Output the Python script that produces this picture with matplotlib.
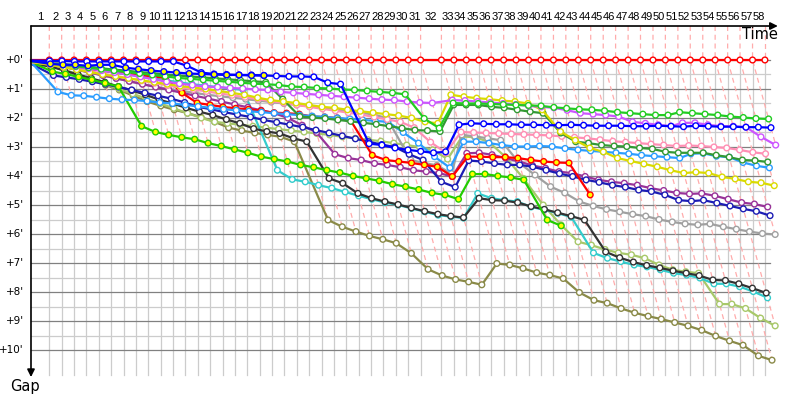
import matplotlib
matplotlib.use("Agg")
import matplotlib.pyplot as plt

# Leader lap durations (s), laps 1..58
lap_times = [139, 94, 94, 94, 94, 94, 94, 94, 94, 94, 94, 94, 94, 94, 94, 94, 94, 94, 94, 94,
             94, 94, 94, 94, 94, 94, 94, 94, 94, 94, 94, 158, 95, 94, 95, 94, 95, 94, 95, 94,
             95, 94, 95, 94, 95, 94, 95, 94, 95, 94, 95, 94, 95, 94, 95, 94, 95, 94]

# Gap to leader (s) at the end of each lap, lap 0..last
gap_red = [0, 0, 0, 0, 0, 0, 0, 0, 0, 0, 0, 0, 0, 0, 0, 0, 0, 0, 0, 0, 0, 0, 0, 0, 0, 0, 0, 0, 0, 0,
           0, 0, 0, 0, 0, 0, 0, 0, 0, 0, 0, 0, 0, 0, 0, 0, 0, 0, 0, 0, 0, 0, 0, 0, 0, 0, 0, 0, 0]
gap_blue = [1, 2, 2, 3, 3, 3, 3, 3, 3, 3, 3, 3, 12, 26, 29, 30, 31, 31, 32, 33, 34, 34, 35, 47, 50,
            173, 176, 182, 186, 189, 192, 190, 134, 131, 132, 133, 133, 134, 134, 135, 135, 134,
            135, 136, 136, 136, 137, 137, 136, 137, 138, 136, 137, 138, 138, 139, 139, 140]
gap_blue2 = [2, 8, 10, 10, 12, 10, 10, 16, 19, 22, 24, 26, 28, 29, 30, 31, 31, 32, 32]
gap_green = [3, 6, 10, 13, 16, 19, 22, 25, 28, 31, 34, 37, 39, 41, 43, 45, 47, 49, 50, 52, 55, 56,
             58, 59, 61, 62, 64, 66, 68, 71, 121, 141, 89, 90, 90, 91, 92, 93, 94, 95, 98, 100,
             102, 103, 105, 108, 110, 112, 114, 114, 108, 110, 112, 114, 117, 119, 121, 122]
gap_dkgreen = [3, 5, 8, 11, 14, 17, 20, 22, 25, 27, 30, 32, 34, 36, 38, 40, 42, 44, 46, 81, 117,
               119, 121, 124, 127, 130, 133, 137, 141, 145, 146, 148, 93, 93, 93, 97, 99, 103, 107,
               110, 151, 169, 172, 176, 178, 179, 182, 184, 190, 192, 192, 192, 197, 201, 207, 208, 211]
gap_yellow = [4, 10, 15, 20, 25, 30, 34, 38, 42, 46, 50, 54, 57, 60, 64, 68, 72, 78, 83, 86, 89, 93,
              97, 99, 103, 106, 109, 112, 115, 120, 128, 131, 72, 76, 79, 81, 84, 86, 90, 103, 148,
              166, 182, 190, 203, 209, 215, 221, 228, 234, 232, 234, 242, 246, 252, 254, 260]
gap_magenta = [3, 5, 10, 14, 18, 22, 26, 30, 35, 40, 45, 49, 52, 55, 56, 58, 59, 61, 62, 66, 68, 70,
               72, 74, 76, 78, 80, 82, 83, 86, 88, 89, 83, 84, 86, 88, 90, 92, 95, 97, 99, 104, 110,
               112, 114, 117, 128, 131, 134, 137, 130, 130, 134, 137, 137, 139, 159, 176]
gap_pink = [5, 8, 13, 18, 23, 28, 33, 38, 43, 48, 53, 57, 61, 65, 69, 73, 77, 81, 85, 89, 93, 97, 101,
            105, 109, 113, 118, 123, 128, 140, 170, 192, 149, 150, 151, 152, 153, 154, 155, 156, 158,
            160, 162, 165, 168, 170, 172, 174, 176, 178, 177, 178, 180, 182, 186, 191, 194]
gap_sky = [6, 66, 73, 74, 77, 80, 82, 83, 85, 88, 90, 93, 96, 99, 102, 104, 106, 108, 110, 112, 114,
           116, 118, 120, 122, 124, 126, 128, 150, 172, 200, 223, 169, 169, 172, 176, 179, 179, 178,
           179, 183, 186, 188, 190, 192, 194, 197, 199, 201, 203, 194, 193, 199, 201, 212, 219, 223]
gap_cyan = [4, 6, 10, 14, 18, 22, 26, 30, 34, 38, 42, 46, 50, 53, 56, 59, 62, 228, 247, 252, 259,
            265, 273, 281, 288, 295, 300, 307, 314, 321, 324, 327, 276, 286, 290, 293, 304, 310,
            317, 325, 399, 410, 417, 424, 428, 434, 441, 445, 451, 463, 463, 469, 479, 492]
gap_black = [7, 14, 22, 30, 38, 46, 55, 63, 72, 82, 90, 99, 107, 114, 123, 131, 142, 148, 152, 162,
             169, 245, 255, 276, 286, 293, 299, 306, 313, 319, 323, 326, 286, 290, 291, 295, 303,
             309, 316, 323, 331, 397, 409, 418, 425, 430, 436, 441, 446, 455, 456, 463, 472, 482]
gap_olive = [8, 12, 22, 32, 42, 52, 62, 74, 86, 95, 103, 110, 118, 128, 140, 146, 151, 155, 159, 169,
             331, 345, 355, 364, 371, 379, 400, 433, 446, 454, 459, 465, 421, 424, 431, 440, 445,
             452, 481, 497, 503, 514, 523, 530, 536, 543, 550, 559, 571, 581, 590, 612, 621]
gap_ltgreen = [8, 10, 20, 30, 40, 50, 60, 70, 80, 90, 100, 110, 120, 128, 131, 134, 137, 140, 143,
               146, 149, 152, 155, 159, 162, 165, 168, 172, 176, 180, 186, 205, 158, 160, 169, 200,
               245, 300, 341, 376, 383, 392, 399, 403, 410, 424, 434, 438, 441, 505, 505, 514, 534, 550]
gap_grey = [5, 10, 15, 20, 26, 32, 38, 44, 50, 55, 60, 64, 68, 72, 75, 78, 81, 84, 87, 90, 93, 96,
            99, 102, 105, 109, 113, 120, 207, 213, 218, 235, 155, 158, 162, 166, 213, 238, 262, 275,
            293, 302, 309, 314, 319, 323, 330, 335, 339, 341, 339, 345, 350, 355, 359, 361]
gap_purple = [6, 8, 14, 20, 26, 32, 38, 44, 50, 56, 62, 68, 74, 80, 86, 92, 98, 104, 110, 120, 135,
              150, 195, 203, 207, 214, 217, 222, 228, 231, 234, 241, 193, 192, 196, 203, 210, 218,
              224, 231, 234, 241, 248, 252, 255, 259, 265, 270, 275, 277, 276, 281, 288, 295, 298, 304]
gap_navy = [9, 32, 36, 40, 45, 50, 56, 62, 68, 74, 80, 88, 97, 102, 108, 113, 118, 124, 129, 134,
            139, 145, 151, 157, 163, 169, 175, 180, 195, 207, 252, 263, 208, 210, 214, 217, 217, 221,
            228, 235, 241, 248, 253, 259, 263, 269, 272, 279, 290, 292, 290, 296, 302, 308, 313, 322]
gap_red2 = [4, 8, 12, 15, 18, 22, 25, 28, 31, 34, 37, 68, 89, 93, 97, 100, 102, 105, 109, 110, 112,
            117, 118, 120, 124, 197, 207, 210, 213, 217, 221, 241, 200, 200, 201, 201, 203, 207,
            210, 212, 213, 279]
gap_green2 = [5, 24, 29, 35, 41, 48, 55, 137, 149, 155, 160, 164, 172, 178, 185, 192, 200, 205, 210,
              217, 222, 228, 233, 240, 245, 250, 257, 262, 268, 275, 279, 288, 236, 236, 240, 243,
              248, 331, 343]

# (gaps, line colour, first lap drawn with yellow marker fill or None); drawn in this order
cars = [
    (gap_red, "#ff0000", None),
    (gap_olive, "#8a8a48", None),
    (gap_ltgreen, "#a8c86a", None),
    (gap_cyan, "#33cccc", None),
    (gap_black, "#333333", None),
    (gap_grey, "#a0a0a0", None),
    (gap_purple, "#993399", None),
    (gap_navy, "#1c1cb4", None),
    (gap_green2, "#22cc00", 1),
    (gap_red2, "#ff0000", 11),
    (gap_sky, "#2a9dff", None),
    (gap_pink, "#ff8fb4", None),
    (gap_dkgreen, "#339933", None),
    (gap_yellow, "#dada00", None),
    (gap_magenta, "#cc55ff", None),
    (gap_green, "#22cc22", None),
    (gap_blue, "#0000ff", None),
    (gap_blue2, "#0000ff", 1),
]

# cumulative leader time at each lap end
lead_t = [0]
for lt in lap_times:
    lead_t.append(lead_t[-1] + lt)
n_laps = len(lap_times)

fig = plt.figure(figsize=(8, 4), dpi=100)
ax = fig.add_axes([0, 0, 1, 1])
ax.set_xlim(-235.4, 5840.5)
ax.set_ylim(703.4, -124.1)
ax.axis("off")

y_top = -70.3
y_grid_bot = 651
x_grid_end = 5613

# grid
for k in range(0, 21):
    g = k * 30
    ax.plot([0, x_grid_end], [g, g], color="#808080" if k % 2 == 0 else "#cccccc",
            lw=0.9, zorder=1 if k % 2 == 0 else 0.5)
for j in range(1, n_laps + 1):
    ax.plot([lead_t[j], lead_t[j]], [0, y_grid_bot], color="#cccccc", lw=0.9, zorder=0.5)

# lap lines (dashed)
for j in range(1, n_laps + 1):
    gm = max(c[0][j] for c in cars if len(c[0]) > j)
    ax.plot([lead_t[j], lead_t[j], lead_t[j] + gm], [y_top, 0, gm],
            color="#ffacac", lw=0.9, ls=(0, (4, 3)), zorder=2)

# car lines
for z, (gaps, col, yfrom) in enumerate(cars):
    xs = [lead_t[j] + g for j, g in enumerate(gaps)]
    ax.plot(xs, gaps, color=col, lw=1.6, zorder=3 + z * 0.01, solid_joinstyle="round")
    fc = ["#ffff00" if (yfrom is not None and j >= yfrom) else "white" for j in range(len(gaps))]
    ax.scatter(xs[1:], gaps[1:], s=17, facecolors=fc[1:], edgecolors=col, linewidths=1.0,
               zorder=3 + z * 0.01 + 0.005)

# axes with arrows
ax.annotate("", xy=(5672, y_top), xytext=(0, y_top),
            arrowprops=dict(arrowstyle="-|>", color="black", lw=1.2, mutation_scale=11,
                            shrinkA=0, shrinkB=0), zorder=6)
ax.annotate("", xy=(0, 656), xytext=(0, y_top),
            arrowprops=dict(arrowstyle="-|>", color="black", lw=1.2, mutation_scale=11,
                            shrinkA=0, shrinkB=0), zorder=6)
ax.text(5537, -51.7, "Time", fontsize=10.5, ha="center", va="center")
ax.text(-45.6, 674.5, "Gap", fontsize=10.5, ha="center", va="center")

# y labels
for k in range(0, 11):
    ax.text(-53, k * 60, "+%d'" % k, fontsize=7.5, ha="right", va="center")

# lap labels
for j in range(1, n_laps + 1):
    ax.text((lead_t[j - 1] + lead_t[j]) / 2, -89, str(j), fontsize=8, ha="center", va="center",
            family="Liberation Sans")

fig.savefig("out.png", dpi=100)
